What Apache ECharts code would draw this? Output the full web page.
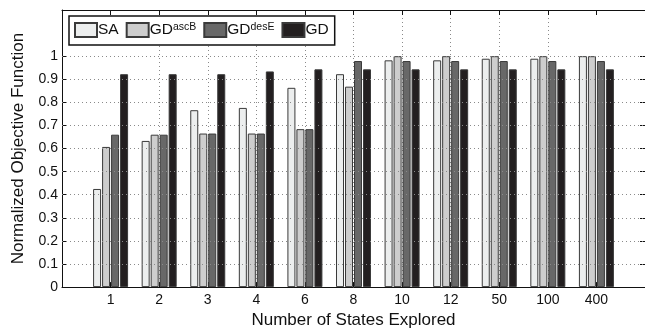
<!DOCTYPE html>
<html><head><meta charset="utf-8">
<script src="https://cdn.jsdelivr.net/npm/echarts@6/dist/echarts.min.js"></script>
<style>html,body{margin:0;padding:0;background:#fff}#c{width:645px;height:334px}</style>
</head><body><div id="c"></div>
<script>
const categories = ['1','2','3','4','6','8','10','12','50','100','400'];
const seriesNames = ['SA','GDascB','GDdesE','GD'];
const saValues   = [0.425,0.633,0.766,0.776,0.863,0.922,0.982,0.982,0.989,0.989,1.0];
const ascBValues = [0.607,0.660,0.665,0.665,0.684,0.868,1.0,1.0,1.0,1.0,1.0];
const desEValues = [0.660,0.660,0.665,0.665,0.684,0.979,0.979,0.979,0.979,0.979,0.979];
const gdValues   = [0.922,0.922,0.922,0.934,0.943,0.943,0.943,0.943,0.943,0.943,0.943];
const yTicks = [0,0.1,0.2,0.3,0.4,0.5,0.6,0.7,0.8,0.9,1.0];
const xTickPos = categories.map((c,i)=>i+1);

const colors = ['#eceeee','#cdcdcd','#686868','#231f20'];
const allValues = [saValues, ascBValues, desEValues, gdValues];
const FONT = 'Liberation Sans';
const GRID = '#8a8a8a';
const DOT = [1,3];

const chart = echarts.init(document.getElementById('c'), null, {renderer:'canvas'});
const barSeries = seriesNames.map((n,si)=>({
  name:n, type:'bar', xAxisIndex:0, yAxisIndex:0, z:3,
  barWidth:8, barGap:'12.5%',
  itemStyle:{color:colors[si], borderColor:'#3a3a3a', borderWidth:1},
  data: allValues[si].map((v,i)=>[i+1, v])
}));
const gridSeries = {
  name:'ygrid', type:'line', xAxisIndex:0, yAxisIndex:0, z:1, data:[], silent:true,
  markLine:{
    silent:true, symbol:'none', animation:false, label:{show:false},
    lineStyle:{color:GRID, type:DOT, width:1},
    emphasis:{disabled:true},
    data: yTicks.filter(v=>v>0).map(v=>({yAxis:v}))
  }
};
const option = {
  animation:false,
  textStyle:{fontFamily:FONT, color:'#111'},
  grid:{left:62, top:10, right:-1, bottom:42, containLabel:false},
  legend:{
    left:69, top:16, orient:'horizontal',
    backgroundColor:'#fff', borderColor:'#111', borderWidth:1.5,
    padding:[6,6,6,5], itemGap:7, itemWidth:22, itemHeight:14,
    icon:'rect',
    data:seriesNames,
    formatter:function(n){
      if(n==='GDascB') return '{b|GD}{s|ascB}';
      if(n==='GDdesE') return '{b|GD}{s|desE}';
      return '{b|'+n+'}';
    },
    textStyle:{fontFamily:FONT, color:'#111', padding:[0,0,0,-4],
      rich:{
        b:{fontSize:15.5, fontFamily:FONT, color:'#111', lineHeight:16},
        s:{fontSize:10.5, fontFamily:FONT, color:'#111', verticalAlign:'top', lineHeight:16, padding:[0,0,6,0]}
      }}
  },
  xAxis:[{
    type:'value', min:0, max:12, interval:1, position:'bottom',
    name:'Number of States Explored', nameLocation:'middle', nameGap:23,
    nameTextStyle:{fontSize:17, fontFamily:FONT, color:'#111'},
    axisLine:{show:true, onZero:false, lineStyle:{color:'#111', width:1}},
    axisTick:{show:true, inside:true, length:5, customValues:xTickPos, lineStyle:{color:'#111'}},
    axisLabel:{show:true, fontSize:14, color:'#111', margin:6, customValues:xTickPos,
      formatter:function(v){ const i=Math.round(v)-1; return categories[i]!==undefined?categories[i]:''; }},
    splitLine:{show:true, showMinLine:false, showMaxLine:false, lineStyle:{color:GRID, type:DOT, width:1}}
  },{
    type:'value', min:0, max:12, interval:1, position:'top',
    axisLine:{show:true, onZero:false, lineStyle:{color:'#111', width:1}},
    axisTick:{show:true, inside:true, length:5, customValues:xTickPos, lineStyle:{color:'#111'}},
    axisLabel:{show:false}, splitLine:{show:false}
  }],
  yAxis:[{
    type:'value', min:0, max:1.2, interval:0.1, position:'left',
    name:'Normalized Objective Function', nameLocation:'middle', nameGap:35,
    nameTextStyle:{fontSize:17, fontFamily:FONT, color:'#111'},
    axisLine:{show:true, onZero:false, lineStyle:{color:'#111', width:1}},
    axisTick:{show:true, inside:true, length:5, customValues:yTicks, lineStyle:{color:'#111'}},
    axisLabel:{show:true, fontSize:14, color:'#111', margin:4, customValues:yTicks,
      formatter:function(v){ return String(parseFloat(v.toFixed(1))); }},
    splitLine:{show:false}
  },{
    type:'value', min:0, max:1.2, interval:0.1, position:'right',
    axisLine:{show:true, onZero:false, lineStyle:{color:'#111', width:1}},
    axisTick:{show:true, inside:true, length:5, customValues:yTicks, lineStyle:{color:'#111'}},
    axisLabel:{show:false}, splitLine:{show:false}
  }],
  series: [gridSeries].concat(barSeries)
};
chart.setOption(option);
</script></body></html>
